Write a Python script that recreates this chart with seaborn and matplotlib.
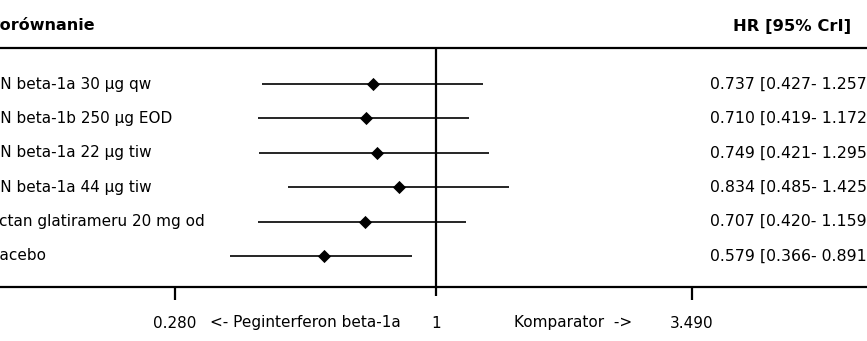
import numpy as np
import pandas as pd
import matplotlib
matplotlib.use("Agg")
import matplotlib.pyplot as plt
import matplotlib.transforms as mtransforms
import seaborn as sns

# ---- data ----
comparators = [
    "IFN beta-1a 30 µg qw",
    "IFN beta-1b 250 µg EOD",
    "IFN beta-1a 22 µg tiw",
    "IFN beta-1a 44 µg tiw",
    "Octan glatirameru 20 mg od",
    "Placebo",
]
hr = [0.737, 0.710, 0.749, 0.834, 0.707, 0.579]
lower = [0.427, 0.419, 0.421, 0.485, 0.420, 0.366]
upper = [1.257, 1.172, 1.295, 1.425, 1.159, 0.891]
tick_values = [0.280, 1.0, 3.490]
tick_labels = ["0.280", "1", "3.490"]
header_left = "Porównanie"
header_right = "HR [95% CrI]"
left_arrow = "<- Peginterferon beta-1a"
right_arrow = "Komparator  ->"

sns.set_theme(style="white")
plt.rcParams["font.family"] = ["DejaVu Sans"]
plt.rcParams["text.color"] = "black"

W, H = 867, 341
fig = plt.figure(figsize=(W / 100, H / 100), dpi=100)
ax = fig.add_axes([0, 0, 1, 1])
ax.set_xscale("log")
ppl = 204.9  # pixels per ln unit
x0 = 436
ax.set_xlim(np.exp((0 - x0) / ppl), np.exp((W - x0) / ppl))
ax.set_ylim(H, 0)
ax.axis("off")

rows = 84 + 34.4 * np.arange(len(comparators))
df = pd.DataFrame({"comp": comparators, "hr": hr, "lo": lower, "hi": upper, "y": rows})

ax.hlines(df["y"], df["lo"], df["hi"], color="black", lw=1.2, zorder=2)
sns.scatterplot(data=df, x="hr", y="y", marker="D", color="black", s=45,
                edgecolor="black", linewidth=0, ax=ax, zorder=3, legend=False)

# reference line and axis
ax.vlines(1.0, 48, 296, color="black", lw=1.6, zorder=1)
ax.axhline(48, color="black", lw=1.6)
ax.axhline(287, color="black", lw=1.6)
for tv in tick_values:
    if tv != 1.0:
        ax.vlines(tv, 287, 300, color="black", lw=1.6)

FS = 11
for tv, tl in zip(tick_values, tick_labels):
    ax.text(tv, 323, tl, ha="center", va="center", fontsize=FS)

bt = mtransforms.blended_transform_factory(ax.transAxes, ax.transData)
ax.text(305 / W, 323, left_arrow, transform=bt, ha="center", va="center", fontsize=FS)
ax.text(573 / W, 323, right_arrow, transform=bt, ha="center", va="center", fontsize=FS)

ax.text(-12 / W, 26, header_left, transform=bt, ha="left", va="center",
        fontsize=11.5, fontweight="bold")
ax.text(733 / W, 26, header_right, transform=bt, ha="left", va="center",
        fontsize=11.8, fontweight="bold")

for _, r in df.iterrows():
    ax.text(-13 / W, r["y"], r["comp"], transform=bt, ha="left", va="center", fontsize=FS)
    ax.text(710 / W, r["y"], f"{r['hr']:.3f} [{r['lo']:.3f}- {r['hi']:.3f}]",
            transform=bt, ha="left", va="center", fontsize=11.3)

fig.savefig("out.png", dpi=100, facecolor="white")
